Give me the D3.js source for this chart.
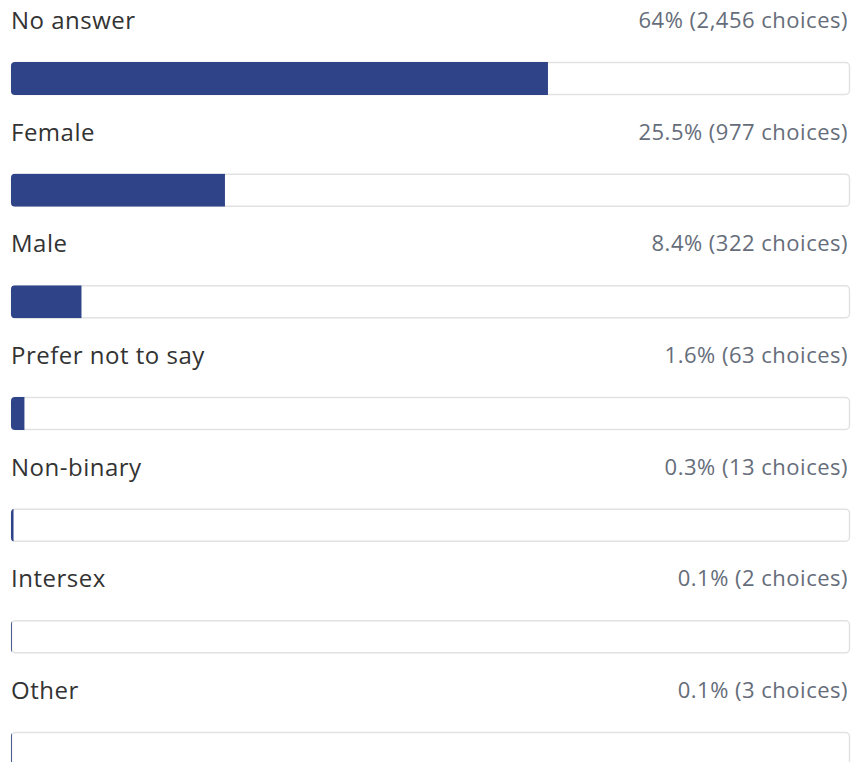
<!DOCTYPE html>
<html><head><meta charset="utf-8">
<script src="https://cdn.jsdelivr.net/npm/d3@7"></script>
<style>html,body{margin:0;padding:0;background:#fff;overflow:hidden}</style>
</head><body><svg id="c" width="851" height="762"></svg>
<script>
const categories = ["No answer","Female","Male","Prefer not to say","Non-binary","Intersex","Other"];
const percents = [64, 25.5, 8.4, 1.6, 0.3, 0.1, 0.1];
const counts = [2456, 977, 322, 63, 13, 2, 3];

const svg = d3.select("#c");
const x = d3.scaleLinear().domain([0,100]).range([11,850]);
const y = d3.scaleLinear().domain([0,categories.length-1]).range([62,732]);
const barH = 33;
const fmt = d3.format(",");

const g = svg.selectAll("g.row").data(categories).join("g").attr("class","row");

g.append("text")
  .attr("x", x(0))
  .attr("y", (d,i)=>y(i)-33)
  .attr("font-family","'Open Sans', sans-serif")
  .attr("font-size", 24)
  .attr("letter-spacing", 0.5)
  .attr("fill","#333")
  .text(d=>d);

g.append("text")
  .attr("x", x(100)-2)
  .attr("y", (d,i)=>y(i)-34)
  .attr("text-anchor","end")
  .attr("font-family","'Open Sans', sans-serif")
  .attr("font-size", 22)
  .attr("letter-spacing", 0.5)
  .attr("fill","#666d7a")
  .text((d,i)=>`${percents[i]}% (${fmt(counts[i])} choices)`);

g.append("rect")
  .attr("x", x(0)+0.5)
  .attr("y", (d,i)=>y(i)+0.5)
  .attr("width", x(100)-x(0)-1)
  .attr("height", barH-1)
  .attr("rx", 4)
  .attr("fill","#fff")
  .attr("stroke","#e2e2e2")
  .attr("stroke-width",1.5);

const defs = svg.append("defs");
categories.forEach((d,i)=>{
  defs.append("clipPath").attr("id","cl"+i).append("rect")
    .attr("x", x(0)).attr("y", y(i)).attr("width", x(100)-x(0)).attr("height", barH).attr("rx",4);
});

g.append("rect")
  .attr("clip-path",(d,i)=>`url(#cl${i})`)
  .attr("x", x(0))
  .attr("y", (d,i)=>y(i))
  .attr("width", (d,i)=>x(percents[i])-x(0))
  .attr("height", barH)
  .attr("fill","#2e4388");
</script></body></html>
